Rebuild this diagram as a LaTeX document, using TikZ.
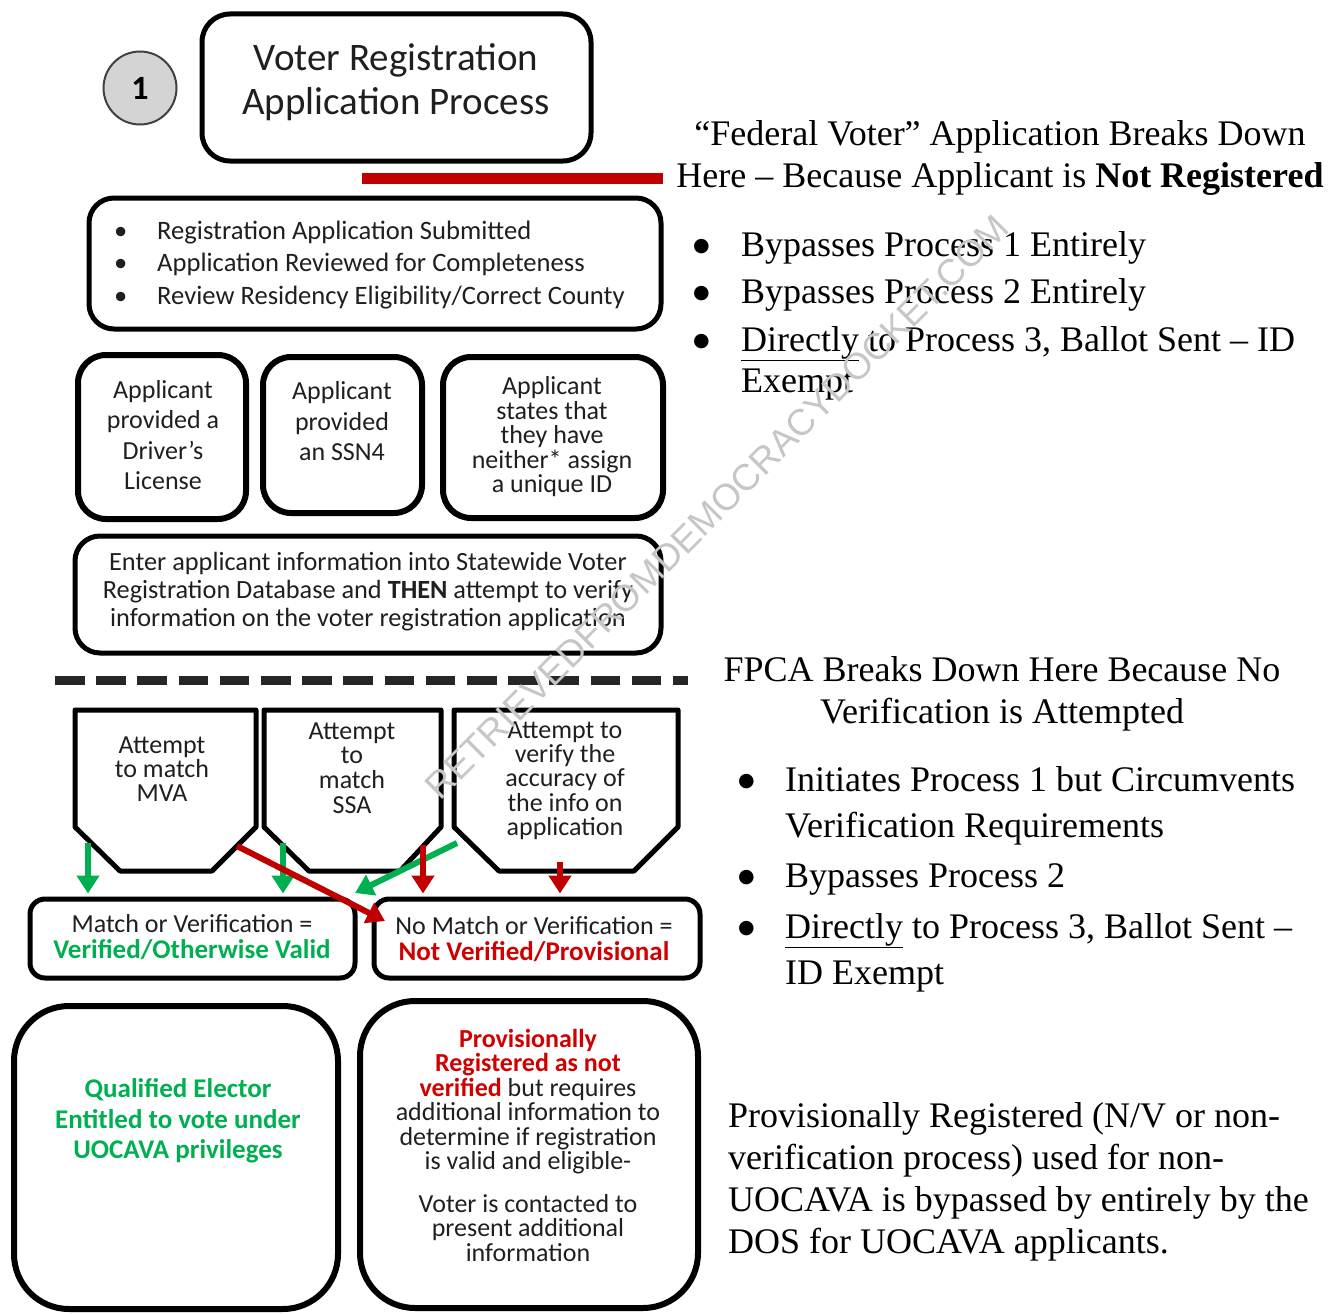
\documentclass[tikz,border=0pt]{standalone}
\usepackage{fontspec}
\setmainfont{Liberation Serif}
\newfontfamily\cf{Carlito}
\newfontfamily\wmfont{Liberation Sans}
\newfontfamily\dvs{DejaVu Sans}
\newcommand{\bigbul}{\raisebox{5pt}{\dvs\fontsize{19}{19}\selectfont ●}}
\usetikzlibrary{arrows.meta}
\definecolor{vgreen}{HTML}{00B050}
\definecolor{vred}{HTML}{C00000}
\definecolor{tred}{HTML}{D00000}
\definecolor{dashc}{HTML}{262626}
\definecolor{numfill}{HTML}{D4D4D4}
\definecolor{numedge}{HTML}{404040}
\definecolor{wmgray}{HTML}{C6C6C6}
\tikzset{
  frame/.style={draw=black, line width=5pt, rounded corners=25pt, inner sep=0pt},
  sans/.style={font=\cf\fontsize{26}{#1}\selectfont, align=center, inner sep=0pt, text=black!88},
  serif/.style={font=\fontsize{36}{#1}\selectfont, inner sep=0pt},
  garrow/.style={draw=vgreen, line width=6pt, -{Triangle[width=22pt,length=18pt]}},
  rarrow/.style={draw=vred, line width=6pt, -{Triangle[width=22pt,length=18pt]}},
  pent/.style={draw=black, line width=5pt, line join=round},
}
\begin{document}
\begin{tikzpicture}[x=1pt,y=-1pt]
\useasboundingbox (0,0) rectangle (1333,1314);

% title
\node[frame, rounded corners=28pt, minimum width=389pt, minimum height=147pt] (title) at (396.5,87.5) {};
\node[sans=44, font=\cf\fontsize{39}{44}\selectfont] (titleT) at (396,82.5) {Voter Registration\\Application Process};
\node[circle, draw=numedge, fill=numfill, line width=2pt, minimum size=73pt, inner sep=0pt, font=\cf\bfseries\fontsize{34}{36}\selectfont] (num) at (140,88) {1};

\fill[vred] (362,173) rectangle (663,184);

\node[serif=42, align=center] (hdr) at (1000,158) {“Federal Voter” Application Breaks Down\\Here – Because Applicant is \textbf{Not Registered}};

\node[serif=41, align=left, anchor=west] (blt1) at (693,315.5) {\makebox[48pt][l]{\bigbul}Bypasses Process 1 Entirely\\[6.5pt]\makebox[48pt][l]{\bigbul}Bypasses Process 2 Entirely\\[6.5pt]\makebox[48pt][l]{\bigbul}\underline{Directly} to Process 3, Ballot Sent – ID\\\hspace*{48pt}Exempt};

% review box
\node[frame, minimum width=572pt, minimum height=131pt] (review) at (375,263.5) {};
\node[sans=32.5, align=left, anchor=west, font=\cf\fontsize{26.6}{32.5}\selectfont] (reviewT) at (114,265) {\makebox[43pt][l]{\textbullet}Registration Application Submitted\\\makebox[43pt][l]{\textbullet}Application Reviewed for Completeness\\\makebox[43pt][l]{\textbullet}Review Residency Eligibility/Correct County};

% id boxes
\node[frame, line width=6pt, rounded corners=28pt, minimum width=168pt, minimum height=164pt] (dl) at (162,437) {};
\node[sans=30.5] (dlT) at (163,435) {Applicant\\provided a\\Driver’s\\License};
\node[frame, line width=6pt, rounded corners=28pt, minimum width=159pt, minimum height=156pt] (ssn) at (342.5,435) {};
\node[sans=30.5] (ssnT) at (342,421.5) {Applicant\\provided\\an SSN4};
\node[frame, line width=6pt, rounded corners=28pt, minimum width=220pt, minimum height=161pt] (none) at (553,437.5) {};
\node[sans=24.5] (noneT) at (552,437) {Applicant\\states that\\they have\\neither* assign\\a unique ID};

% enter box
\node[frame, minimum width=586pt, minimum height=117pt] (enter) at (368,594.5) {};
\node[sans=28, font=\cf\fontsize{26.3}{28}\selectfont] (enterT) at (368,592) {Enter applicant information into Statewide Voter\\Registration Database and \textbf{THEN} attempt to verify\\information on the voter registration application};

% dashed separator
\coordinate (dashL) at (55,680);
\coordinate (dashR) at (688,680);
\draw[draw=dashc, line width=9pt, dash pattern=on 29.5pt off 11.7pt] (dashL) -- (dashR);

\node[serif=42, align=center] (fpca) at (1002,694) {FPCA Breaks Down Here Because No\\Verification is Attempted};
\node[serif=46, align=left, anchor=west] (blt2) at (738,879) {\makebox[47pt][l]{\bigbul}Initiates Process 1 but Circumvents\\\hspace*{47pt}Verification Requirements\\[4.5pt]\makebox[47pt][l]{\bigbul}Bypasses Process 2\\[4.5pt]\makebox[47pt][l]{\bigbul}\underline{Directly} to Process 3, Ballot Sent –\\\hspace*{47pt}ID Exempt};

% pentagons
\draw[pent] (75,710) -- (256,710) -- (256,827) -- (212,871) -- (120,871) -- (75,827) -- cycle;
\node[sans=24] (p1) at (162,769) {Attempt\\to match\\MVA};
\draw[pent] (264,710) -- (441,710) -- (441,827) -- (400,871) -- (309,871) -- (264,827) -- cycle;
\node[sans=24.7] (p2) at (352,768) {Attempt\\to\\match\\SSA};
\draw[pent] (454,710) -- (678,710) -- (678,827) -- (634,871) -- (499,871) -- (454,827) -- cycle;
\node[sans=24.25] (p3) at (565,780.5) {Attempt to\\verify the\\accuracy of\\the info on\\application};

% match boxes
\node[frame, rounded corners=15pt, minimum width=325pt, minimum height=79pt] (m1) at (192.5,938.5) {};
\node[sans=26] (m1T) at (192,937.5) {Match or Verification =\\\textcolor{vgreen}{\fontsize{27}{26}\selectfont\bfseries Verified/Otherwise Valid}};
\node[frame, rounded corners=15pt, minimum width=326pt, minimum height=79pt] (m2) at (537,938.5) {};
\node[sans=26] (m2T) at (534,939.5) {No Match or Verification =\\\textcolor{tred}{\fontsize{27}{26}\selectfont\bfseries Not Verified/Provisional}};

% arrows
\coordinate (g1s) at (88,843);
\coordinate (g2s) at (283,843);
\coordinate (g3s) at (457,843);
\coordinate (g3e) at (355,893);
\coordinate (r1s) at (237,846);
\coordinate (r1e) at (385,921);
\coordinate (r2s) at (423,845);
\coordinate (r3s) at (560,862);
\draw[garrow, shorten >=3pt] (g1s) -- (g1s |- m1.north);
\draw[garrow, shorten >=3pt] (g2s) -- (g2s |- m1.north);
\draw[garrow] (g3s) -- (g3e);
\draw[rarrow] (r1s) -- (r1e);
\draw[rarrow, shorten >=3pt] (r2s) -- (r2s |- m2.north);
\draw[rarrow, shorten >=3pt] (r3s) -- (r3s |- m2.north);

% bottom boxes
\node[frame, line width=6pt, rounded corners=55pt, minimum width=324pt, minimum height=303pt] (qual) at (176,1157.5) {};
\node[align=center, inner sep=0pt, font=\cf\bfseries\fontsize{27}{30.5}\selectfont, text=vgreen] (qualT) at (178,1121) {Qualified Elector\\Entitled to vote under\\UOCAVA privileges};
\node[frame, line width=6pt, rounded corners=55pt, minimum width=338pt, minimum height=307pt] (prov) at (529,1154.5) {};
\node[sans=24.5] (provT) at (528,1145) {\textcolor{tred}{\bfseries Provisionally}\\\textcolor{tred}{\bfseries Registered as not}\\\textcolor{tred}{\bfseries verified} but requires\\additional information to\\determine if registration\\is valid and eligible-\\[18pt]Voter is contacted to\\present additional\\information};

\node[serif=42, align=left, anchor=west] (para) at (728,1182) {Provisionally Registered (N/V or non-\\verification process) used for non-\\UOCAVA is bypassed by entirely by the\\DOS for UOCAVA applicants.};

% watermark
\node[rotate=45, text=wmgray, inner sep=0pt, font=\wmfont\fontsize{37}{40}\selectfont] (wm) at (717,507) {RETRIEVEDFROMDEMOCRACYDOCKET.COM};
\end{tikzpicture}
\end{document}
